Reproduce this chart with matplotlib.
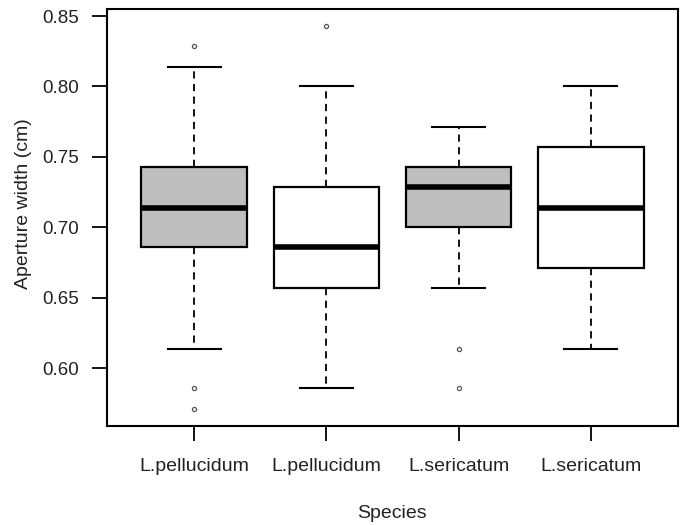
import matplotlib
matplotlib.use("Agg")
import matplotlib.pyplot as plt

categories = ["L.pellucidum", "L.pellucidum", "L.sericatum", "L.sericatum"]
q1 = [0.686, 0.657, 0.700, 0.671]
medians = [0.714, 0.686, 0.729, 0.714]
q3 = [0.743, 0.729, 0.743, 0.757]
whisker_low = [0.614, 0.586, 0.657, 0.614]
whisker_high = [0.814, 0.800, 0.771, 0.800]
outliers = [[0.829, 0.586, 0.571], [0.843], [0.614, 0.586], []]
fill_colors = ["#bebebe", "white", "#bebebe", "white"]

plt.rcParams['font.family'] = ['Liberation Sans', 'DejaVu Sans']

fig = plt.figure(figsize=(6.87, 5.25), dpi=100)
ax = fig.add_axes([107/687, 99/525, 571/687, 417/525])

stats = []
for i in range(len(categories)):
    stats.append(dict(med=medians[i], q1=q1[i], q3=q3[i],
                      whislo=whisker_low[i], whishi=whisker_high[i],
                      fliers=outliers[i]))

positions = list(range(1, len(categories) + 1))
bp = ax.bxp(stats, positions=positions, widths=0.8, patch_artist=True,
            showfliers=True,
            boxprops=dict(linewidth=1.6, edgecolor="black"),
            medianprops=dict(linewidth=4, color="black", solid_capstyle="butt"),
            whiskerprops=dict(linewidth=1.3, color="black", linestyle=(0, (4, 3))),
            capprops=dict(linewidth=1.5, color="black"),
            capwidths=0.4,
            flierprops=dict(marker="o", markersize=3.0, markerfacecolor="none",
                            markeredgecolor="#555555", markeredgewidth=0.9))
for patch, c in zip(bp["boxes"], fill_colors):
    patch.set_facecolor(c)

ax.set_xlim(0.34, 4.66)
ax.set_ylim(0.559, 0.855)
ax.set_yticks([0.60, 0.65, 0.70, 0.75, 0.80, 0.85])
ax.set_yticklabels(["0.60", "0.65", "0.70", "0.75", "0.80", "0.85"])
ax.set_xticks(positions)
ax.set_xticklabels(categories)

for s in ax.spines.values():
    s.set_linewidth(1.5)
ax.tick_params(axis="both", direction="out", length=11, width=1.3,
               colors="black")
ax.tick_params(axis="x", pad=12, labelsize=14)
ax.tick_params(axis="y", pad=9, labelsize=13.5)
for t in ax.get_xticklabels() + ax.get_yticklabels():
    t.set_color("#222222")

fig.text(392/687, 1 - 513/525, "Species", ha="center", va="center",
         fontsize=14, color="#222222")
fig.text(24/687, 1 - 204/525, "Aperture width (cm)", ha="center", va="center",
         rotation=90, fontsize=14, color="#222222")

fig.savefig("out.png", dpi=100)
